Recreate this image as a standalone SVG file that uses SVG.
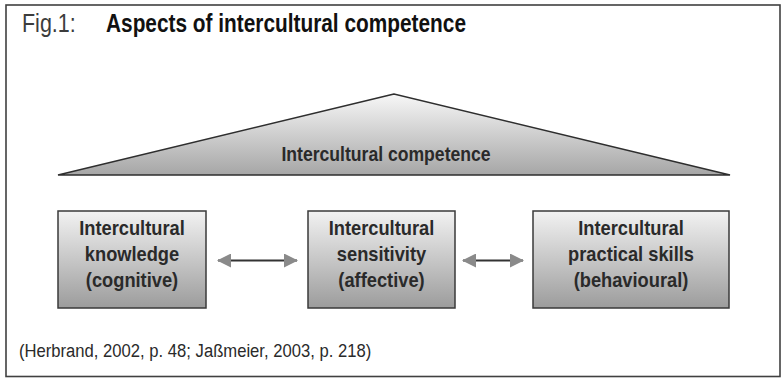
<svg xmlns="http://www.w3.org/2000/svg" width="782" height="379" viewBox="0 0 782 379">
  <defs>
    <linearGradient id="roofFill" x1="0" y1="0" x2="0" y2="1">
      <stop offset="0" stop-color="#f7f7f7"/>
      <stop offset="1" stop-color="#a6a6a6"/>
    </linearGradient>
    <linearGradient id="boxFill" x1="0" y1="0" x2="0" y2="1">
      <stop offset="0" stop-color="#f2f2f2"/>
      <stop offset="1" stop-color="#9c9c9c"/>
    </linearGradient>
    <marker id="head" viewBox="0 0 14 14" refX="13" refY="7" markerWidth="14" markerHeight="14" markerUnits="userSpaceOnUse" orient="auto-start-reverse">
      <path d="M0,0 L14,7 L0,14 Z" fill="#8a8a8a"/>
    </marker>
  </defs>
  <style>
    .frame { fill: #ffffff; stroke: #404040; stroke-width: 1.6; }
    .box { fill: url(#boxFill); stroke: #3a3a3a; stroke-width: 1.5; }
    .roof { fill: url(#roofFill); stroke: #2e2e2e; stroke-width: 1.6; stroke-linejoin: miter; }
    .lbl { font-family: "Liberation Sans", Arial, sans-serif; font-weight: bold; font-size: 21px; fill: #2a2a2a; text-anchor: middle; }
    .roofLbl { font-size: 20px; }
    .title { font-family: "Liberation Sans", Arial, sans-serif; font-size: 25px; }
    .cite { font-family: "Liberation Sans", Arial, sans-serif; font-size: 18.5px; fill: #2a2a2a; }
    .conn { stroke: #333333; stroke-width: 2; fill: none; marker-start: url(#head); marker-end: url(#head); }
  </style>

  <!-- outer frame -->
  <rect class="frame" x="6" y="5" width="774" height="371.5"/>

  <!-- heading -->
  <g id="heading">
    <text class="title" transform="translate(22 32) scale(0.86 1)" fill="#3c3c3c">Fig.1:</text>
    <text class="title" x="106" y="32" font-weight="bold" fill="#111111" textLength="360" lengthAdjust="spacingAndGlyphs">Aspects of intercultural competence</text>
  </g>

  <!-- roof: overall competence -->
  <g id="competence">
    <polygon class="roof" points="394,94 58,175 730,175"/>
    <text class="lbl roofLbl" transform="translate(386 161) scale(0.88 1)">Intercultural competence</text>
  </g>

  <!-- three components -->
  <g id="knowledge">
    <rect class="box" x="58" y="211" width="148" height="97"/>
    <text class="lbl" transform="translate(132 235) scale(0.87 1)">Intercultural</text>
    <text class="lbl" transform="translate(132 261) scale(0.87 1)">knowledge</text>
    <text class="lbl" transform="translate(132 287) scale(0.87 1)">(cognitive)</text>
  </g>

  <g id="sensitivity">
    <rect class="box" x="308" y="211" width="147" height="97"/>
    <text class="lbl" transform="translate(381.5 235) scale(0.87 1)">Intercultural</text>
    <text class="lbl" transform="translate(381.5 261) scale(0.87 1)">sensitivity</text>
    <text class="lbl" transform="translate(381.5 287) scale(0.87 1)">(affective)</text>
  </g>

  <g id="skills">
    <rect class="box" x="533" y="211" width="196" height="97"/>
    <text class="lbl" transform="translate(631 235) scale(0.87 1)">Intercultural</text>
    <text class="lbl" transform="translate(631 261) scale(0.87 1)">practical skills</text>
    <text class="lbl" transform="translate(631 287) scale(0.87 1)">(behavioural)</text>
  </g>

  <!-- two-way links between components -->
  <g id="connectors">
    <line class="conn" x1="218" y1="260.5" x2="297" y2="260.5"/>
    <line class="conn" x1="463" y1="260.5" x2="523" y2="260.5"/>
  </g>

  <!-- source -->
  <text class="cite" transform="translate(19 357) scale(0.9 1)">(Herbrand, 2002, p. 48; Jaßmeier, 2003, p. 218)</text>
</svg>
